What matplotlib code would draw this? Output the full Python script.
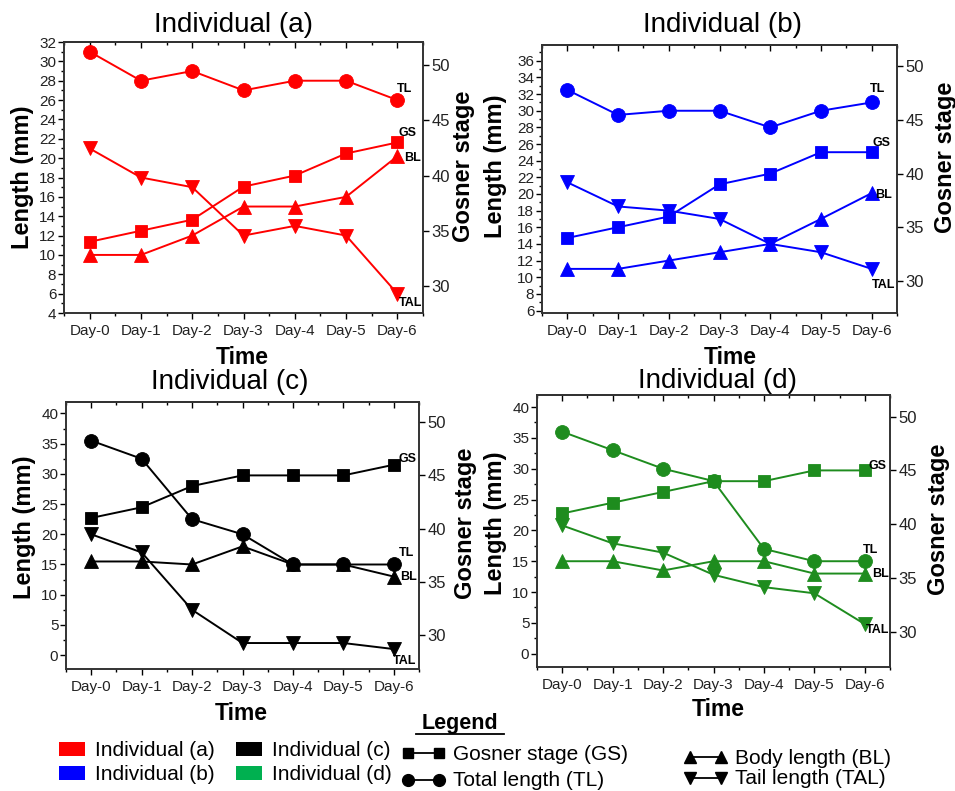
import matplotlib
matplotlib.use("Agg")
import matplotlib.pyplot as plt
from matplotlib.patches import Rectangle
from matplotlib.lines import Line2D
from matplotlib.ticker import MultipleLocator

plt.rcParams['font.family'] = ['Liberation Sans', 'DejaVu Sans']

days = ['Day-0', 'Day-1', 'Day-2', 'Day-3', 'Day-4', 'Day-5', 'Day-6']

# Gosner stage (right axis), total / body / tail length in mm (left axis)
a_gs = [34, 35, 36, 39, 40, 42, 43]
a_tl = [31, 28, 29, 27, 28, 28, 26]
a_bl = [10, 10, 12, 15, 15, 16, 20.2]
a_tal = [21, 18, 17, 12, 13, 12, 6]

b_gs = [34, 35, 36, 39, 40, 42, 42]
b_tl = [32.5, 29.5, 30, 30, 28, 30, 31]
b_bl = [11, 11, 12, 13, 14, 17, 20.1]
b_tal = [21.4, 18.5, 18, 17, 14, 13, 11]

c_gs = [41, 42, 44, 45, 45, 45, 46]
c_tl = [35.5, 32.5, 22.5, 20, 15, 15, 15]
c_bl = [15.5, 15.5, 15, 18, 15, 15, 13]
c_tal = [20, 17, 7.5, 2, 2, 2, 1]

d_gs = [41, 42, 43, 44, 44, 45, 45]
d_tl = [36, 33, 30, 28, 17, 15, 15]
d_bl = [15, 15, 13.5, 15, 15, 13, 13]
d_tal = [20.8, 17.9, 16.4, 12.8, 10.8, 9.8, 4.8]

W, H = 955, 791
fig = plt.figure(figsize=(W / 100, H / 100), dpi=100)


def box(l, t, r, b):
    return [l / W, 1 - b / H, (r - l) / W, (b - t) / H]


panels = [
    dict(name='Individual (a)', color='#ff0000', gs=a_gs, tl=a_tl, bl=a_bl, tal=a_tal,
         box=(64, 42, 423, 313), ylim=(4, 32), ymaj=2, ymin=1, y2lim=(27.55, 52.1),
         labs={'TL': (7, 11), 'GS': (10, 9), 'BL': (15, -2), 'TAL': (13, -9)}),
    dict(name='Individual (b)', color='#0000ff', gs=b_gs, tl=b_tl, bl=b_bl, tal=b_tal,
         box=(542, 45, 897, 313), ylim=(5.7, 37.9), ymaj=2, ymin=1, y2lim=(27.0, 52.0),
         labs={'TL': (6, 13), 'GS': (10, 9), 'BL': (12, -2), 'TAL': (12, -16)}),
    dict(name='Individual (c)', color='#000000', gs=c_gs, tl=c_tl, bl=c_bl, tal=c_tal,
         box=(66, 402, 419, 669), ylim=(-2.3, 41.9), ymaj=5, ymin=2.5, y2lim=(26.8, 51.9),
         labs={'TL': (13, 11), 'GS': (14, 6), 'BL': (15, 0), 'TAL': (11, -12)}),
    dict(name='Individual (d)', color='#1e8c1e', gs=d_gs, tl=d_tl, bl=d_bl, tal=d_tal,
         box=(537, 395, 890, 667), ylim=(-2.15, 41.95), ymaj=5, ymin=2.5, y2lim=(26.75, 52.0),
         labs={'TL': (6, 11), 'GS': (13, 4), 'BL': (16, 0), 'TAL': (13, -6)}),
]

x = list(range(len(days)))
tick_col = '#222222'

for p in panels:
    ax = fig.add_axes(box(*p['box']))
    ax2 = ax.twinx()
    c = p['color']
    kw = dict(color=c, lw=1.4, markersize=10, markeredgewidth=0.6)
    ax.plot(x, p['tl'], marker='o', **kw)
    ax.plot(x, p['bl'], marker='^', **kw)
    ax.plot(x, p['tal'], marker='v', **kw)
    ax2.plot(x, p['gs'], marker='s', color=c, lw=1.4, markersize=8.5, markeredgewidth=0.6)

    ax.set_xlim(-0.5, 6.5)
    ax.set_ylim(*p['ylim'])
    ax2.set_ylim(*p['y2lim'])
    ax.set_xticks(x)
    ax.set_xticklabels(days)
    ax.xaxis.set_minor_locator(MultipleLocator(0.5))
    ax.yaxis.set_major_locator(MultipleLocator(p['ymaj']))
    ax.yaxis.set_minor_locator(MultipleLocator(p['ymin']))
    ax2.yaxis.set_major_locator(MultipleLocator(5))

    ax.tick_params(axis='x', which='both', direction='out', labelsize=11,
                   labelcolor=tick_col, pad=4)
    ax.tick_params(axis='x', which='major', length=4, width=1)
    ax.tick_params(axis='x', which='minor', length=2.5, width=1)
    ax.tick_params(axis='y', which='major', direction='out', length=4, width=1,
                   labelsize=11, labelcolor=tick_col, pad=1.5)
    ax.tick_params(axis='y', which='minor', direction='out', length=2.5, width=1)
    ax2.tick_params(axis='y', which='major', direction='out', length=4, width=1,
                    labelsize=12, labelcolor=tick_col, pad=2)

    # inward ticks along the top edge
    top = ax.secondary_xaxis('top')
    top.set_xticks(x)
    top.xaxis.set_minor_locator(MultipleLocator(0.5))
    top.tick_params(axis='x', which='both', direction='in', labeltop=False, width=1)
    top.tick_params(axis='x', which='major', length=4)
    top.tick_params(axis='x', which='minor', length=2.5)
    top.spines['top'].set_linewidth(1.2)
    top.spines['top'].set_color('#333333')

    for a_ in (ax, ax2):
        for s in a_.spines.values():
            s.set_linewidth(1.2)
            s.set_color('#333333')

    # end labels next to the Day-6 points
    ends = {'TL': (ax, p['tl'][-1]), 'BL': (ax, p['bl'][-1]),
            'TAL': (ax, p['tal'][-1]), 'GS': (ax2, p['gs'][-1])}
    for lab, (dx, dy) in p['labs'].items():
        a_, yv = ends[lab]
        a_.annotate(lab, xy=(x[-1], yv), xytext=(dx, dy), textcoords='offset pixels',
                    ha='center', va='center', fontsize=9, fontweight='bold')

# overlay in pixel coordinates for titles, axis labels and the legend block
ov = fig.add_axes([0, 0, 1, 1], zorder=-1)
ov.set_xlim(0, W)
ov.set_ylim(H, 0)
ov.axis('off')

titles = [('Individual (a)', 233, 25), ('Individual (b)', 722, 25),
          ('Individual (c)', 230, 382), ('Individual (d)', 717, 381)]
for t, tx, ty in titles:
    ov.text(tx, ty, t, fontsize=20, ha='center', va='center')

for tx, ty in [(242, 357), (730, 358), (241, 713), (718, 710)]:
    ov.text(tx, ty, 'Time', fontsize=16.5, fontweight='bold', ha='center', va='center')

for tx, ty in [(22, 177), (495, 166), (25, 527), (495, 523)]:
    ov.text(tx, ty, 'Length (mm)', fontsize=17, fontweight='bold', rotation=90,
            ha='center', va='center')
for tx, ty in [(463, 166), (945, 157), (465, 523), (938, 519)]:
    ov.text(tx, ty, 'Gosner stage', fontsize=17, fontweight='bold', rotation=90,
            ha='center', va='center')

# legend block
ov.text(460, 724, 'Legend', fontsize=15.5, fontweight='bold', ha='center', va='center')
ov.plot([416, 504], [734, 734], color='black', lw=1.3)

indiv = [('Individual (a)', '#ff0000', 59, 749), ('Individual (b)', '#0000ff', 59, 773),
         ('Individual (c)', '#000000', 236, 749), ('Individual (d)', '#00b050', 236, 773)]
for lab, col, lx, ly in indiv:
    ov.add_patch(Rectangle((lx, ly - 7), 26, 14, facecolor=col, edgecolor='none'))
    ov.text(lx + 36, ly + 1, lab, fontsize=15, ha='left', va='center')

series = [('Gosner stage (GS)', 's', 403, 753, 7.5), ('Total length (TL)', 'o', 403, 780, 8.5),
          ('Body length (BL)', '^', 685, 757, 8.5), ('Tail length (TAL)', 'v', 685, 778, 8.5)]
for lab, m, lx, ly, ms in series:
    ov.add_line(Line2D([lx + 5, lx + 36], [ly, ly], color='black', lw=1.3,
                       marker=m, markersize=ms, markevery=[0, 1]))
    ov.text(lx + 50, ly + 1, lab, fontsize=15, ha='left', va='center')

fig.savefig('out.png', dpi=100)
